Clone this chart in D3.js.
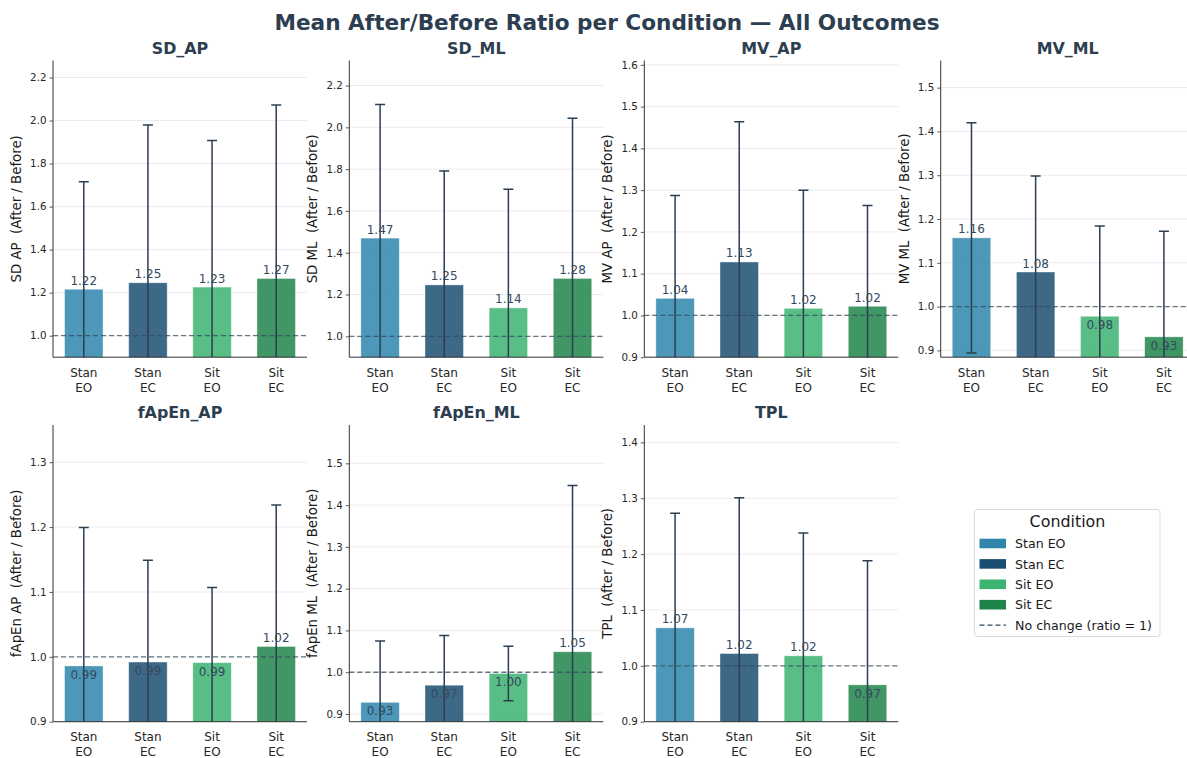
<!DOCTYPE html>
<html>
<head>
<meta charset="utf-8">
<script src="https://cdn.jsdelivr.net/npm/d3@7"></script>
<style>
  html, body { margin: 0; padding: 0; background: #ffffff; }
  svg { display: block; font-family: "DejaVu Sans", sans-serif; }
  .pre { white-space: pre; }
</style>
</head>
<body>
<svg id="chart" width="1187" height="758"></svg>
<script>
// Conditions and outcomes
const conditions = ["Stan EO", "Stan EC", "Sit EO", "Sit EC"];
const conditionTicks = [["Stan", "EO"], ["Stan", "EC"], ["Sit", "EO"], ["Sit", "EC"]];
const conditionColors = ["#2e86ab", "#1b4f72", "#3cb371", "#1e8449"];
const outcomes = ["SD_AP", "SD_ML", "MV_AP", "MV_ML", "fApEn_AP", "fApEn_ML", "TPL"];

// Mean after/before ratio per condition, and its standard deviation
const sdApMean = [1.216, 1.246, 1.226, 1.266];
const sdApSd = [0.499, 0.733, 0.681, 0.806];
const sdMlMean = [1.470, 1.246, 1.136, 1.277];
const sdMlSd = [0.639, 0.545, 0.568, 0.767];
const mvApMean = [1.041, 1.128, 1.017, 1.022];
const mvApSd = [0.246, 0.336, 0.283, 0.241];
const mvMlMean = [1.157, 1.079, 0.978, 0.931];
const mvMlSd = [0.263, 0.219, 0.206, 0.241];
const fapenApMean = [0.986, 0.992, 0.991, 1.016];
const fapenApSd = [0.2135, 0.157, 0.116, 0.218];
const fapenMlMean = [0.928, 0.969, 0.997, 1.049];
const fapenMlSd = [0.147, 0.119, 0.065, 0.398];
const tplMean = [1.068, 1.022, 1.018, 0.966];
const tplSd = [0.205, 0.279, 0.220, 0.222];

// Y tick values per outcome
const sdApTicks = [1.0, 1.2, 1.4, 1.6, 1.8, 2.0, 2.2];
const sdMlTicks = [1.0, 1.2, 1.4, 1.6, 1.8, 2.0, 2.2];
const mvApTicks = [0.9, 1.0, 1.1, 1.2, 1.3, 1.4, 1.5, 1.6];
const mvMlTicks = [0.9, 1.0, 1.1, 1.2, 1.3, 1.4, 1.5];
const fapenApTicks = [0.9, 1.0, 1.1, 1.2, 1.3];
const fapenMlTicks = [0.9, 1.0, 1.1, 1.2, 1.3, 1.4, 1.5];
const tplTicks = [0.9, 1.0, 1.1, 1.2, 1.3, 1.4];

const panels = [
  { name: outcomes[0], mean: sdApMean, sd: sdApSd, ticks: sdApTicks },
  { name: outcomes[1], mean: sdMlMean, sd: sdMlSd, ticks: sdMlTicks },
  { name: outcomes[2], mean: mvApMean, sd: mvApSd, ticks: mvApTicks },
  { name: outcomes[3], mean: mvMlMean, sd: mvMlSd, ticks: mvMlTicks },
  { name: outcomes[4], mean: fapenApMean, sd: fapenApSd, ticks: fapenApTicks },
  { name: outcomes[5], mean: fapenMlMean, sd: fapenMlSd, ticks: fapenMlTicks },
  { name: outcomes[6], mean: tplMean, sd: tplSd, ticks: tplTicks }
];

// Grid geometry
const colLeft = [53, 349.3, 644.3, 940.7];
const rowTop = [60.5, 425];
const axW = 254, axH = 296.7;

const ink = "#2c3e50";
const svg = d3.select("#chart");

svg.append("text")
  .attr("x", 607).attr("y", 29.5)
  .attr("text-anchor", "middle")
  .attr("font-size", 21.6).attr("font-weight", "bold")
  .attr("fill", ink)
  .text("Mean After/Before Ratio per Condition \u2014 All Outcomes");

const defs = svg.append("defs");

panels.forEach((p, i) => {
  const left = colLeft[i % 4], top = rowTop[Math.floor(i / 4)];
  const g = svg.append("g").attr("transform", `translate(${left},${top})`);

  const rows = conditions.map((c, k) => ({ c, k, mean: p.mean[k], sd: p.sd[k] }));
  const yMin = Math.min(0.9, d3.min(rows, d => d.mean) * 0.95);
  const yMax = d3.max(rows, d => d.mean + d.sd) * 1.1;

  const x = d3.scaleBand().domain(conditions).range([0, axW])
    .paddingInner(0.4).paddingOuter(0.18);
  const y = d3.scaleLinear().domain([yMin, yMax]).range([axH, 0]);

  const clipId = "clip" + i;
  defs.append("clipPath").attr("id", clipId)
    .append("rect").attr("x", 0).attr("y", 0).attr("width", axW).attr("height", axH);

  // horizontal grid
  g.append("g").selectAll("line").data(p.ticks).join("line")
    .attr("x1", 0).attr("x2", axW)
    .attr("y1", d => y(d)).attr("y2", d => y(d))
    .attr("stroke", "#ebebeb").attr("stroke-width", 1);

  const plot = g.append("g").attr("clip-path", `url(#${clipId})`);

  // bars
  plot.selectAll("rect.bar").data(rows).join("rect")
    .attr("class", "bar")
    .attr("x", d => x(d.c)).attr("width", x.bandwidth())
    .attr("y", d => y(d.mean)).attr("height", d => y(yMin) - y(d.mean) + 2)
    .attr("fill", d => conditionColors[d.k]).attr("fill-opacity", 0.85)
    .attr("stroke", "#ffffff").attr("stroke-width", 0.8).attr("stroke-opacity", 0.5);

  // reference line at ratio = 1
  plot.append("line")
    .attr("x1", 0).attr("x2", axW)
    .attr("y1", y(1)).attr("y2", y(1))
    .attr("stroke", "#34495e").attr("stroke-width", 1.3)
    .attr("stroke-dasharray", "5,3").attr("stroke-opacity", 0.75);

  // error bars (mean ± sd)
  const eb = plot.selectAll("g.err").data(rows).join("g").attr("class", "err");
  const cx = d => x(d.c) + x.bandwidth() / 2;
  eb.append("line")
    .attr("x1", cx).attr("x2", cx)
    .attr("y1", d => y(d.mean - d.sd)).attr("y2", d => y(d.mean + d.sd))
    .attr("stroke", ink).attr("stroke-width", 1.5);
  eb.append("line")
    .attr("x1", d => cx(d) - 5).attr("x2", d => cx(d) + 5)
    .attr("y1", d => y(d.mean + d.sd)).attr("y2", d => y(d.mean + d.sd))
    .attr("stroke", ink).attr("stroke-width", 1.5);
  eb.append("line")
    .attr("x1", d => cx(d) - 5).attr("x2", d => cx(d) + 5)
    .attr("y1", d => y(d.mean - d.sd)).attr("y2", d => y(d.mean - d.sd))
    .attr("stroke", ink).attr("stroke-width", 1.5);

  // value labels
  g.selectAll("text.val").data(rows).join("text")
    .attr("class", "val")
    .attr("x", cx)
    .attr("y", d => d.mean >= 1 ? y(d.mean) - 4.5 : y(d.mean) + 13)
    .attr("text-anchor", "middle")
    .attr("font-size", 12).attr("fill", "#34495e")
    .text(d => d.mean.toFixed(2));

  // y axis
  const yAxis = g.append("g")
    .call(d3.axisLeft(y).tickValues(p.ticks).tickFormat(d3.format(".1f")).tickSize(3.5).tickPadding(3));
  yAxis.select(".domain").remove();
  yAxis.selectAll(".tick line").attr("stroke", "#333333").attr("stroke-width", 0.8);
  yAxis.selectAll(".tick text").attr("font-size", 10.3).attr("fill", "#262626")
    .attr("font-family", "DejaVu Sans");

  // spines
  g.append("line").attr("x1", 0).attr("x2", 0).attr("y1", 0).attr("y2", axH)
    .attr("stroke", "#333333").attr("stroke-width", 1);
  g.append("line").attr("x1", 0).attr("x2", axW).attr("y1", axH).attr("y2", axH)
    .attr("stroke", "#333333").attr("stroke-width", 1);

  // x tick labels (two lines)
  const xt = g.selectAll("text.xt").data(rows).join("text")
    .attr("class", "xt")
    .attr("text-anchor", "middle")
    .attr("font-size", 12).attr("fill", "#262626");
  xt.append("tspan").attr("x", cx).attr("y", axH + 19.7).text(d => conditionTicks[d.k][0]);
  xt.append("tspan").attr("x", cx).attr("y", axH + 34.7).text(d => conditionTicks[d.k][1]);

  // panel title
  g.append("text")
    .attr("x", axW / 2).attr("y", -7)
    .attr("text-anchor", "middle")
    .attr("font-size", 15.9).attr("font-weight", "bold").attr("fill", ink)
    .text(p.name);

  // y label
  g.append("text")
    .attr("class", "pre")
    .attr("transform", `translate(-32,${axH / 2}) rotate(-90)`)
    .attr("text-anchor", "middle")
    .attr("font-size", 13.3).attr("fill", "#1a1a1a")
    .text(p.name.replace("_", " ") + "  (After / Before)");
});

// legend
const lg = svg.append("g").attr("transform", "translate(974.5,509.5)");
lg.append("rect").attr("width", 185.5).attr("height", 127)
  .attr("rx", 3).attr("fill", "#ffffff").attr("fill-opacity", 0.8)
  .attr("stroke", "#d9d9d9").attr("stroke-width", 1);
lg.append("text").attr("x", 93).attr("y", 17.5).attr("text-anchor", "middle")
  .attr("font-size", 15.9).attr("fill", "#1a1a1a").text("Condition");

const entries = conditions.map((c, k) => ({ label: c, color: conditionColors[k], kind: "box" }));
entries.push({ label: "No change (ratio = 1)", color: "#34495e", kind: "dash" });

const le = lg.selectAll("g.entry").data(entries).join("g")
  .attr("class", "entry")
  .attr("transform", (d, k) => `translate(0,${34 + k * 20.4})`);
le.filter(d => d.kind === "box").append("rect")
  .attr("x", 5).attr("y", -4.8).attr("width", 26.5).attr("height", 9.6)
  .attr("fill", d => d.color);
le.filter(d => d.kind === "dash").append("line")
  .attr("x1", 5).attr("x2", 31.5).attr("y1", 0).attr("y2", 0)
  .attr("stroke", d => d.color).attr("stroke-width", 1.3).attr("stroke-dasharray", "5,3");
le.append("text").attr("x", 40.5).attr("y", 4.6)
  .attr("font-size", 12.6).attr("fill", "#1a1a1a").text(d => d.label);
</script>
</body>
</html>
